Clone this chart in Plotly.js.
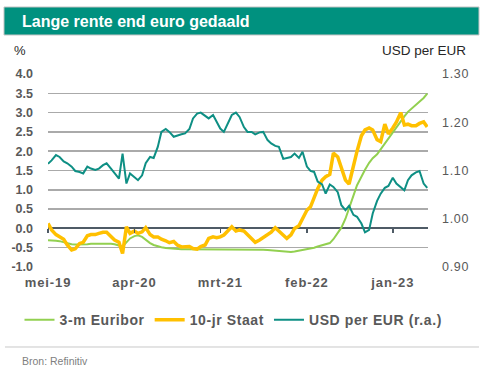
<!DOCTYPE html>
<html>
<head>
<meta charset="utf-8">
<script src="https://cdn.plot.ly/plotly-3.0.1.min.js"></script>
<style>
html,body{margin:0;padding:0;background:#fff}
#chart{width:492px;height:377px}
.legendtext{letter-spacing:0.6px}
.xtick text{letter-spacing:0.9px}
.y2tick text{letter-spacing:0.7px}
</style>
</head>
<body>
<div id="chart"></div>
<script>
// semi-monthly observation dates
const dates = [
"2019-05-01","2019-05-15","2019-06-01","2019-06-15","2019-07-01","2019-07-15","2019-08-01","2019-08-15","2019-09-01","2019-09-15",
"2019-10-01","2019-10-15","2019-11-01","2019-11-15","2019-12-01","2019-12-15","2020-01-01","2020-01-15","2020-02-01","2020-02-15",
"2020-03-01","2020-03-15","2020-04-01","2020-04-15","2020-05-01","2020-05-15","2020-06-01","2020-06-15","2020-07-01","2020-07-15",
"2020-08-01","2020-08-15","2020-09-01","2020-09-15","2020-10-01","2020-10-15","2020-11-01","2020-11-15","2020-12-01","2020-12-15",
"2021-01-01","2021-01-15","2021-02-01","2021-02-15","2021-03-01","2021-03-15","2021-04-01","2021-04-15","2021-05-01","2021-05-15",
"2021-06-01","2021-06-15","2021-07-01","2021-07-15","2021-08-01","2021-08-15","2021-09-01","2021-09-15","2021-10-01","2021-10-15",
"2021-11-01","2021-11-15","2021-12-01","2021-12-15","2022-01-01","2022-01-15","2022-02-01","2022-02-15","2022-03-01","2022-03-15",
"2022-04-01","2022-04-15","2022-05-01","2022-05-15","2022-06-01","2022-06-15","2022-07-01","2022-07-15","2022-08-01","2022-08-15",
"2022-09-01","2022-09-15","2022-10-01","2022-10-15","2022-11-01","2022-11-15","2022-12-01","2022-12-15","2023-01-01","2023-01-15",
"2023-02-01","2023-02-15","2023-03-01","2023-03-15","2023-04-01","2023-04-15","2023-05-01","2023-05-15"
];

// 3-m Euribor (%)
const euribor3m = [
-0.31,-0.31,-0.32,-0.33,-0.36,-0.38,-0.41,-0.42,-0.42,-0.42,
-0.41,-0.40,-0.40,-0.39,-0.39,-0.39,-0.40,-0.41,-0.44,-0.47,
-0.36,-0.26,-0.20,-0.18,-0.22,-0.30,-0.38,-0.43,-0.47,-0.49,
-0.51,-0.52,-0.52,-0.53,-0.54,-0.54,-0.54,-0.55,-0.55,-0.55,
-0.55,-0.55,-0.55,-0.54,-0.54,-0.54,-0.54,-0.54,-0.55,-0.55,
-0.55,-0.55,-0.55,-0.55,-0.55,-0.55,-0.56,-0.57,-0.58,-0.59,
-0.60,-0.61,-0.61,-0.60,-0.58,-0.56,-0.54,-0.52,-0.50,-0.47,
-0.44,-0.40,-0.38,-0.28,-0.12,0.02,0.25,0.55,0.85,1.12,
1.35,1.52,1.70,1.82,1.92,2.05,2.20,2.35,2.50,2.63,
2.78,2.90,3.02,3.10,3.19,3.28,3.38,3.49
];

// 10-jr Staat (%)
const staat10y = [
0.13,-0.04,-0.16,-0.22,-0.28,-0.43,-0.56,-0.53,-0.39,-0.36,
-0.19,-0.16,-0.16,-0.13,-0.10,-0.10,-0.22,-0.30,-0.36,-0.65,
0.04,-0.13,-0.07,-0.13,-0.09,0.02,-0.16,-0.22,-0.22,-0.28,
-0.32,-0.37,-0.34,-0.43,-0.48,-0.47,-0.47,-0.52,-0.54,-0.47,
-0.43,-0.26,-0.22,-0.24,-0.22,-0.17,-0.04,0.04,-0.07,-0.04,
-0.07,-0.16,-0.26,-0.36,-0.30,-0.24,-0.17,-0.10,0.02,-0.07,
-0.19,-0.26,-0.17,0.00,0.07,0.26,0.47,0.56,0.82,1.03,
1.25,1.34,1.40,1.95,1.85,1.55,1.25,1.15,1.65,2.00,
2.40,2.55,2.60,2.55,2.30,2.25,2.70,2.45,2.60,2.75,
3.00,2.68,2.70,2.66,2.66,2.72,2.76,2.63
];

// USD per EUR (right axis)
const usdPerEur = [
1.114,1.121,1.132,1.128,1.119,1.115,1.108,1.099,1.097,1.094,
1.108,1.104,1.101,1.104,1.111,1.115,1.104,1.094,1.083,1.135,
1.073,1.094,1.087,1.080,1.090,1.115,1.128,1.126,1.149,1.180,
1.186,1.180,1.170,1.173,1.175,1.177,1.186,1.208,1.218,1.220,
1.213,1.208,1.215,1.201,1.187,1.180,1.201,1.215,1.220,1.211,
1.190,1.180,1.180,1.175,1.179,1.180,1.163,1.156,1.151,1.149,
1.124,1.126,1.128,1.135,1.126,1.139,1.108,1.099,1.097,1.077,
1.071,1.052,1.071,1.066,1.055,1.028,1.018,1.027,1.008,1.004,
0.990,0.972,0.977,1.011,1.037,1.052,1.064,1.068,1.085,1.073,
1.066,1.059,1.080,1.090,1.096,1.099,1.073,1.064
];

const seriesNames = ["3-m Euribor", "10-jr Staat", "USD per EUR (r.a.)"];
const xTickVals = ["2019-05-01","2020-04-01","2021-03-01","2022-02-01","2023-01-01"];
const xTickText = ["mei-19","apr-20","mrt-21","feb-22","jan-23"];
const yTickVals = [-1,-0.5,0,0.5,1,1.5,2,2.5,3,3.5,4];
const yTickText = ["-1.0","-0.5","0.0","0.5","1.0","1.5","2.0","2.5","3.0","3.5","4.0"];
const y2TickVals = [0.9,1.0,1.1,1.2,1.3];
const y2TickText = ["0.90","1.00","1.10","1.20","1.30"];

const FONT = "Arial, 'Liberation Sans', sans-serif";
const xRange = ["2019-05-01","2023-05-18"];

const traces = [
  {x: dates, y: euribor3m, name: seriesNames[0], type: "scatter", mode: "lines",
   line: {color: "#92D050", width: 2}, yaxis: "y", xaxis: "x"},
  {x: dates, y: staat10y, name: seriesNames[1], type: "scatter", mode: "lines",
   line: {color: "#FFC000", width: 3.5}, yaxis: "y", xaxis: "x"},
  {x: dates, y: usdPerEur, name: seriesNames[2], type: "scatter", mode: "lines",
   line: {color: "#0E8F84", width: 2}, yaxis: "y2", xaxis: "x"},
  {x: [], y: [], xaxis: "x2", yaxis: "y", showlegend: false, hoverinfo: "skip", type: "scatter"}
];

const layout = {
  width: 492, height: 377,
  margin: {l: 48, r: 64, t: 74, b: 110},
  paper_bgcolor: "#ffffff", plot_bgcolor: "#ffffff",
  font: {family: FONT, color: "#595959"},
  showlegend: true,
  legend: {orientation: "h", x: -0.075, xanchor: "left", y: -0.275, yanchor: "middle",
           font: {family: FONT, size: 14, weight: 700, color: "#595959"}, bgcolor: "rgba(0,0,0,0)",
           tracegroupgap: 0, itemwidth: 30},
  xaxis: {type: "date", range: xRange, tickvals: xTickVals, ticktext: xTickText,
          showgrid: false, zeroline: false, showline: false, ticks: "",
          ticklabelstandoff: 6,
          tickfont: {family: FONT, size: 13, weight: 700, color: "#595959"}},
  xaxis2: {type: "date", range: xRange, tickvals: xTickVals, overlaying: "x", anchor: "free",
           position: 0.2, side: "bottom", showticklabels: false, showgrid: false, zeroline: false,
           showline: false, ticks: "outside", ticklen: 4, tickwidth: 1.5, tickcolor: "#4F5B66"},
  yaxis: {range: [-1, 4], tickvals: yTickVals, ticktext: yTickText,
          showgrid: true, gridcolor: "#AAAAAA", gridwidth: 1.5,
          zeroline: true, zerolinecolor: "#4F5B66", zerolinewidth: 2,
          showline: false, ticks: "", ticklabelstandoff: 14,
          tickfont: {family: FONT, size: 12.5, weight: 700, color: "#595959"}},
  yaxis2: {range: [0.9, 1.3], tickvals: y2TickVals, ticktext: y2TickText,
           overlaying: "y", side: "right", showgrid: false, zeroline: false, showline: false,
           ticks: "", ticklabelstandoff: 13,
           tickfont: {family: FONT, size: 12.5, color: "#595959"}},
  shapes: [
    {type: "rect", xref: "paper", yref: "paper", x0: -0.1158, x1: 1.1342, y0: 1.2021, y1: 1.3472,
     fillcolor: "#00917F", line: {color: "#C4C4C4", width: 1}, layer: "above"},
    {type: "line", xref: "paper", yref: "paper", x0: -0.1132, x1: 1.1342, y0: -0.4145, y1: -0.4145,
     line: {color: "#C8C8C8", width: 1}}
  ],
  annotations: [
    {text: "Lange rente end euro gedaald", xref: "paper", yref: "paper", x: -0.0737, y: 1.273,
     xanchor: "left", yanchor: "middle", showarrow: false,
     font: {family: FONT, size: 16, weight: 700, color: "#ffffff"}},
    {text: "%", xref: "paper", yref: "paper", x: -0.0947, y: 1.124, xanchor: "left", yanchor: "middle",
     showarrow: false, font: {family: FONT, size: 13, color: "#262626"}},
    {text: "USD per EUR", xref: "paper", yref: "paper", x: 1.1053, y: 1.124, xanchor: "right", yanchor: "middle",
     showarrow: false, font: {family: FONT, size: 13.5, color: "#262626"}},
    {text: "Bron: Refinitiv", xref: "paper", yref: "paper", x: -0.0737, y: -0.487, xanchor: "left", yanchor: "middle",
     showarrow: false, font: {family: FONT, size: 10.5, color: "#808080"}}
  ]
};

Plotly.newPlot("chart", traces, layout, {displayModeBar: false, staticPlot: true});
</script>
</body>
</html>
